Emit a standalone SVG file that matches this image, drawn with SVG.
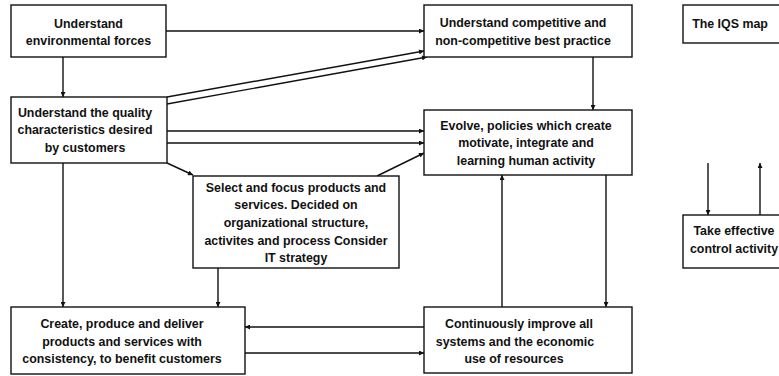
<svg xmlns="http://www.w3.org/2000/svg" width="779" height="376" viewBox="0 0 779 376">
  <style>
    .box { fill: #ffffff; stroke: #111111; stroke-width: 1.4; }
    .lbl { font-family: "Liberation Sans", Arial, sans-serif; font-weight: bold; font-size: 12.4px; fill: #111111; text-anchor: middle; }
    .edge { fill: none; stroke: #111111; stroke-width: 1.4; marker-end: url(#arrow); }
  </style>
  <defs>
    <marker id="arrow" viewBox="0 0 10 10" refX="10" refY="5" markerWidth="6" markerHeight="5" markerUnits="userSpaceOnUse" orient="auto">
      <path d="M0,0 L10,5 L0,10 z" fill="#111111"/>
    </marker>
  </defs>
  <rect width="779" height="376" fill="#ffffff"/>

  <g id="connectors">
    <line class="edge" x1="166" y1="31" x2="424" y2="31"/>
    <line class="edge" x1="63" y1="57" x2="63" y2="97"/>
    <line class="edge" x1="167" y1="97" x2="424" y2="51"/>
    <line class="edge" x1="167" y1="104" x2="427" y2="57"/>
    <line class="edge" x1="167" y1="131" x2="424" y2="131"/>
    <line class="edge" x1="167" y1="143" x2="424" y2="143"/>
    <line class="edge" x1="167" y1="163" x2="193" y2="175"/>
    <line class="edge" x1="63" y1="163" x2="63" y2="307"/>
    <line class="edge" x1="377" y1="176" x2="424" y2="153"/>
    <line class="edge" x1="218" y1="268" x2="218" y2="307"/>
    <line class="edge" x1="593" y1="57" x2="593" y2="110"/>
    <line class="edge" x1="606" y1="175" x2="606" y2="307"/>
    <line class="edge" x1="502" y1="307" x2="502" y2="175"/>
    <line class="edge" x1="424" y1="327" x2="245" y2="327"/>
    <line class="edge" x1="245" y1="353" x2="424" y2="353"/>
    <line class="edge" x1="708" y1="163" x2="708" y2="215"/>
    <line class="edge" x1="760" y1="215" x2="760" y2="163"/>
  </g>

  <g id="env-forces">
    <rect class="box" x="11" y="5" width="155" height="52"/>
    <text class="lbl" x="88.5" y="27.5">Understand</text>
    <text class="lbl" x="88.5" y="44.5">environmental forces</text>
  </g>

  <g id="quality-characteristics">
    <rect class="box" x="11" y="97" width="156" height="66"/>
    <text class="lbl" x="85" y="116.5">Understand the quality</text>
    <text class="lbl" x="85" y="134">characteristics desired</text>
    <text class="lbl" x="85" y="151.5">by customers</text>
  </g>

  <g id="best-practice">
    <rect class="box" x="424" y="5" width="208" height="52"/>
    <text class="lbl" x="523" y="26.5">Understand competitive and</text>
    <text class="lbl" x="523" y="44.5">non-competitive best practice</text>
  </g>

  <g id="evolve-policies">
    <rect class="box" x="424" y="110" width="208" height="65"/>
    <text class="lbl" x="526" y="129.5">Evolve, policies which create</text>
    <text class="lbl" x="526" y="147">motivate, integrate and</text>
    <text class="lbl" x="526" y="164.5">learning human activity</text>
  </g>

  <g id="select-focus">
    <rect class="box" x="193" y="176" width="206" height="92"/>
    <text class="lbl" x="296" y="191.5">Select and focus products and</text>
    <text class="lbl" x="296" y="209">services. Decided on</text>
    <text class="lbl" x="296" y="226.5">organizational structure,</text>
    <text class="lbl" x="296" y="244.5">activites and process Consider</text>
    <text class="lbl" x="296" y="261.5">IT strategy</text>
  </g>

  <g id="create-deliver">
    <rect class="box" x="11" y="307" width="234" height="67"/>
    <text class="lbl" x="122" y="328">Create, produce and deliver</text>
    <text class="lbl" x="122" y="345.5">products and services with</text>
    <text class="lbl" x="122" y="363">consistency, to benefit customers</text>
  </g>

  <g id="continuous-improve">
    <rect class="box" x="424" y="307" width="208" height="66"/>
    <text class="lbl" x="519" y="328">Continuously improve all</text>
    <text class="lbl" x="515" y="345.5">systems and the economic</text>
    <text class="lbl" x="514" y="363">use of resources</text>
  </g>

  <g id="iqs-map">
    <rect class="box" x="683" y="5" width="120" height="38"/>
    <text class="lbl" x="730" y="27.5">The IQS map</text>
  </g>

  <g id="control-activity">
    <rect class="box" x="683" y="215" width="120" height="53"/>
    <text class="lbl" x="734" y="234.5">Take effective</text>
    <text class="lbl" x="734" y="252.5">control activity</text>
  </g>
</svg>
